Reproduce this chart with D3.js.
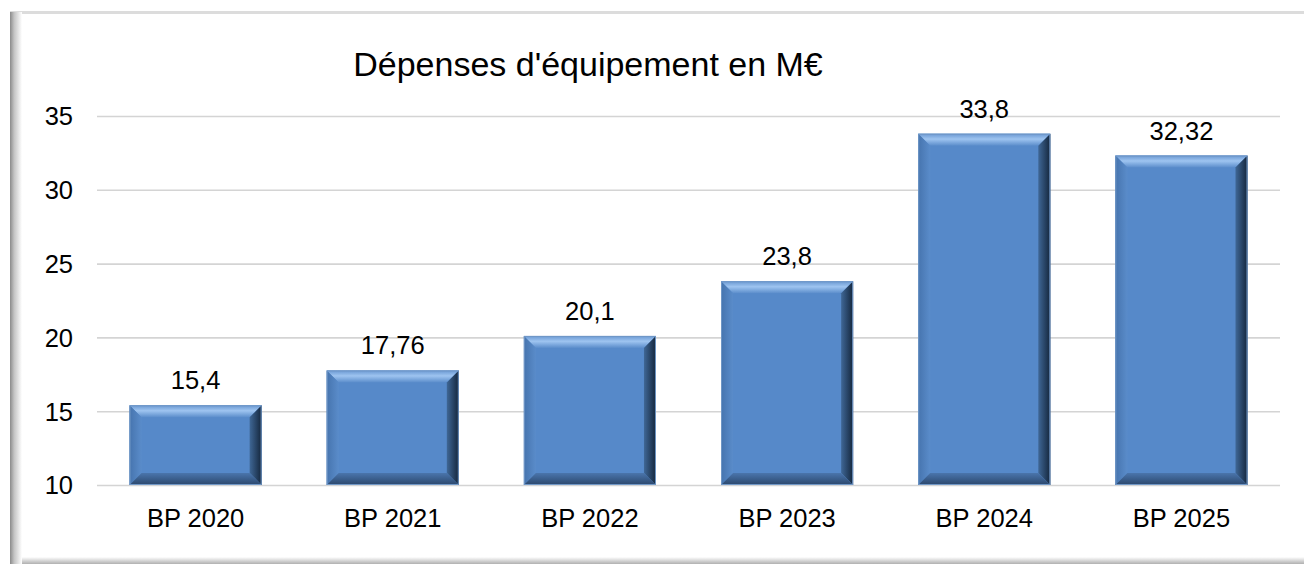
<!DOCTYPE html>
<html>
<head>
<meta charset="utf-8">
<script src="https://cdn.jsdelivr.net/npm/d3@7"></script>
<style>
  body { margin: 0; background: #fff; }
  text { font-family: "Liberation Sans", Arial, sans-serif; fill: #000; }
</style>
</head>
<body>
<div id="chart"></div>
<script>
// Dépenses d'équipement par budget primitif
const categories = ['BP 2020', 'BP 2021', 'BP 2022', 'BP 2023', 'BP 2024', 'BP 2025'];
const values = [15.4, 17.76, 20.1, 23.8, 33.8, 32.32];
const labels = ['15,4', '17,76', '20,1', '23,8', '33,8', '32,32'];
const yTicks = [10, 15, 20, 25, 30, 35];
const TITLE = "Dépenses d'équipement en M€";

const WIDTH = 1304;
const HEIGHT = 564;
const BEVEL = 12;
const FONT = '25.5px';

const svg = d3.select('#chart').append('svg')
  .attr('width', WIDTH)
  .attr('height', HEIGHT);

const defs = svg.append('defs');

// dégradés pour le cadre et les biseaux
function linGrad(id, x1, y1, x2, y2, stops) {
  const g = defs.append('linearGradient').attr('id', id)
    .attr('x1', x1).attr('y1', y1).attr('x2', x2).attr('y2', y2);
  stops.forEach(s => g.append('stop').attr('offset', s[0]).attr('stop-color', s[1]));
}
linGrad('frameLeft', '0', '0', '1', '0', [[0, '#8a8a8a'], [0.35, '#c4c4c4'], [1, '#ffffff']]);
linGrad('frameBottom', '0', '0', '0', '1', [[0, '#ffffff'], [1, '#b0b0b0']]);
linGrad('bevTop', '0', '0', '0', '1', [[0, '#6a98d2'], [0.45, '#9ec4f0'], [1, '#5b8dcb']]);
linGrad('bevLeft', '0', '0', '1', '0', [[0, '#4674ae'], [1, '#5a8cca']]);
linGrad('bevRight', '0', '0', '1', '0', [[0, '#3f6796'], [1, '#14263c']]);
linGrad('bevBottom', '0', '0', '0', '1', [[0, '#4a75ac'], [1, '#2b476c']]);

// cadre
svg.append('rect')
  .attr('x', 10).attr('y', 11)
  .attr('width', WIDTH - 10).attr('height', 3)
  .attr('fill', '#dcdcdc');
svg.append('rect')
  .attr('x', 10).attr('y', 12)
  .attr('width', 12).attr('height', HEIGHT - 12)
  .attr('fill', 'url(#frameLeft)');
svg.append('rect')
  .attr('x', 22).attr('y', 557)
  .attr('width', WIDTH - 22).attr('height', 7)
  .attr('fill', 'url(#frameBottom)');

const x = d3.scaleBand()
  .domain(categories)
  .range([97, 1280])
  .paddingInner(0.33)
  .paddingOuter(0.165);

const y = d3.scaleLinear()
  .domain([10, 35])
  .range([485, 116]);

// grille
const yAxis = d3.axisLeft(y)
  .tickValues(yTicks)
  .tickSize(-(1280 - 97))
  .tickPadding(24)
  .tickFormat(d3.format('d'));

const gy = svg.append('g')
  .attr('transform', 'translate(97,0)')
  .call(yAxis);
gy.select('.domain').remove();
gy.selectAll('.tick line').attr('stroke', '#d4d4d4').attr('stroke-width', 1.6);
gy.selectAll('.tick text')
  .style('font-family', '"Liberation Sans", Arial, sans-serif')
  .style('font-size', FONT)
  .attr('fill', '#000')
  .attr('dy', '0.35em');

// barres biseautées
const bars = svg.selectAll('.bar')
  .data(values)
  .enter().append('g')
  .attr('class', 'bar');

function pts(arr) { return arr.map(p => p.join(',')).join(' '); }

bars.each(function(v, i) {
  const g = d3.select(this);
  const x0 = x(categories[i]);
  const x1 = x0 + x.bandwidth();
  const y0 = y(v);
  const y1 = y(10);
  const b = BEVEL;
  g.append('rect')
    .attr('x', x0).attr('y', y0)
    .attr('width', x1 - x0).attr('height', y1 - y0)
    .attr('fill', '#5689c9');
  g.append('polygon')
    .attr('points', pts([[x0, y0], [x1, y0], [x1 - b, y0 + b], [x0 + b, y0 + b]]))
    .attr('fill', 'url(#bevTop)');
  g.append('polygon')
    .attr('points', pts([[x0, y0], [x0 + b, y0 + b], [x0 + b, y1 - b], [x0, y1]]))
    .attr('fill', 'url(#bevLeft)');
  g.append('polygon')
    .attr('points', pts([[x1, y0], [x1, y1], [x1 - b, y1 - b], [x1 - b, y0 + b]]))
    .attr('fill', 'url(#bevRight)');
  g.append('polygon')
    .attr('points', pts([[x0, y1], [x0 + b, y1 - b], [x1 - b, y1 - b], [x1, y1]]))
    .attr('fill', 'url(#bevBottom)');
  g.append('rect')
    .attr('x', x0 + 0.5).attr('y', y0 + 0.5)
    .attr('width', x1 - x0 - 1).attr('height', y1 - y0 - 1)
    .attr('fill', 'none')
    .attr('stroke', '#7097c6')
    .attr('stroke-width', 1);
});

// étiquettes de valeurs
svg.selectAll('.label')
  .data(values)
  .enter().append('text')
  .attr('class', 'label')
  .attr('x', (d, i) => x(categories[i]) + x.bandwidth() / 2)
  .attr('y', d => y(d) - 16)
  .attr('text-anchor', 'middle')
  .style('font-size', FONT)
  .text((d, i) => labels[i]);

// catégories
svg.selectAll('.cat')
  .data(categories)
  .enter().append('text')
  .attr('class', 'cat')
  .attr('x', d => x(d) + x.bandwidth() / 2)
  .attr('y', 527)
  .attr('text-anchor', 'middle')
  .style('font-size', FONT)
  .text(d => d);

// titre
svg.append('text')
  .attr('x', 588)
  .attr('y', 76)
  .attr('text-anchor', 'middle')
  .style('font-size', '34px')
  .text(TITLE);
</script>
</body>
</html>
